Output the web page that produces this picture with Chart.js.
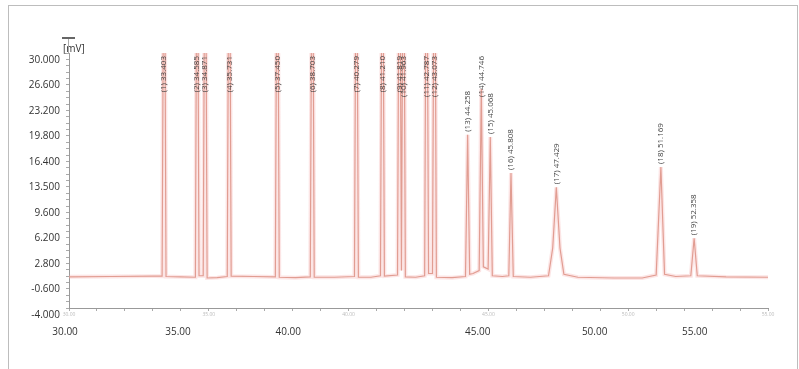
<!DOCTYPE html>
<html>
<head>
<meta charset="utf-8">
<script src="https://cdn.jsdelivr.net/npm/chart.js@4.4.1/dist/chart.umd.min.js"></script>
<style>
  html, body { margin: 0; padding: 0; background: #fff; }
  #wrap { position: relative; width: 799px; height: 369px; overflow: hidden; }
  #frame { position: absolute; left: 8px; top: 5px; width: 788px; height: 380px; border: 1px solid #bdbdbd; }
  canvas { position: absolute; left: 0; top: 0; }
</style>
</head>
<body>
<div id="wrap">
  <div id="frame"></div>
  <canvas id="chart" width="799" height="369"></canvas>
</div>
<script>
// retention time (min) and signal (mV) of the trace
const traceTimes = [
  30.00, 31.50, 33.00, 33.33, 33.403, 33.47, 34.00, 34.52, 34.585, 34.65,
  34.80, 34.871, 34.94, 35.30, 35.66, 35.731, 35.80, 36.60, 37.38, 37.450,
  37.52, 38.10, 38.63, 38.703, 38.77, 39.50, 40.21, 40.279, 40.35, 40.80,
  41.14, 41.210, 41.28, 41.75, 41.819, 41.89, 41.963, 42.03, 42.40, 42.72,
  42.787, 42.86, 43.00, 43.073, 43.14, 43.70, 44.18, 44.258, 44.33, 44.45,
  44.67, 44.746, 44.82, 44.99, 45.068, 45.14, 45.50, 45.73, 45.808, 45.89,
  46.50, 47.15, 47.30, 47.429, 47.56, 47.70, 48.20, 49.50, 50.50, 51.00,
  51.169, 51.30, 51.70, 52.24, 52.358, 52.47, 53.50, 55.00
];
const traceSignal = [
  0.15, 0.20, 0.25, 0.25, 60, 0.20, 0.15, 0.10, 60, 0.30,
  0.30, 60, 0.00, 0.05, 0.20, 60, 0.25, 0.20, 0.15, 60,
  0.10, 0.05, 0.15, 60, 0.10, 0.10, 0.20, 60, 0.10, 0.10,
  0.30, 60, 0.25, 0.40, 60, 1.00, 60, 0.15, 0.10, 0.30,
  60, 0.60, 0.60, 60, 0.10, 0.05, 0.20, 19.1, 0.50, 0.60,
  1.00, 25.2, 1.50, 1.20, 18.8, 0.30, 0.20, 0.30, 14.0, 0.20,
  0.10, 0.30, 4.0, 12.1, 4.0, 0.50, 0.10, 0.00, 0.00, 0.40,
  14.8, 0.50, 0.20, 0.30, 5.3, 0.30, 0.15, 0.10
];

// peak annotations
const peakTimes = [
  33.403, 34.585, 34.871, 35.731, 37.450, 38.703, 40.279, 41.210, 41.819, 41.963,
  42.787, 43.073, 44.258, 44.746, 45.068, 45.808, 47.429, 51.169, 52.358
];
const peakLabels = [
  "(1) 33.403", "(2) 34.585", "(3) 34.871", "(4) 35.731", "(5) 37.450",
  "(6) 38.703", "(7) 40.279", "(8) 41.210", "(9) 41.819", "(10) 41.963",
  "(11) 42.787", "(12) 43.073", "(13) 44.258", "(14) 44.746", "(15) 45.068",
  "(16) 45.808", "(17) 47.429", "(18) 51.169", "(19) 52.358"
];

const yTickLabels = ["-4.000", "-0.600", "2.800", "6.200", "9.600", "13.500",
  "16.400", "19.800", "23.200", "26.600", "30.000"];
const xTickLabels = ["30.00", "35.00", "40.00", "45.00", "50.00", "55.00"];
const xTickAt = [29.86, 33.90, 37.84, 44.62, 48.80, 52.38];

const points = traceTimes.map((t, i) => ({ x: t, y: traceSignal[i] }));

const peakText = {
  id: "peakText",
  afterDatasetsDraw(chart) {
    const { ctx, chartArea: area, scales } = chart;
    ctx.save();
    ctx.font = "8px 'Open Sans'";
    ctx.fillStyle = "#444";
    ctx.textAlign = "left";
    ctx.textBaseline = "middle";
    peakTimes.forEach((t, i) => {
      const top = traceSignal[traceTimes.indexOf(t)];
      const x = scales.x.getPixelForValue(t);
      const w = ctx.measureText(peakLabels[i]).width;
      const yStart = Math.max(scales.y.getPixelForValue(top) - 3, area.top + w + 3);
      ctx.save();
      ctx.translate(x, yStart);
      ctx.rotate(-Math.PI / 2);
      ctx.fillText(peakLabels[i], 0, 0);
      ctx.restore();
    });
    // unit and axis cap
    ctx.fillStyle = "#333";
    ctx.font = "10px 'Open Sans'";
    ctx.fillText("[mV]", area.left - 6, area.top - 4);
    ctx.strokeStyle = "#aaa";
    ctx.lineWidth = 1;
    ctx.beginPath();
    ctx.moveTo(area.left - 0.5, area.top - 15);
    ctx.lineTo(area.left - 0.5, area.top);
    ctx.stroke();
    ctx.strokeStyle = "#666";
    ctx.lineWidth = 2;
    ctx.beginPath();
    ctx.moveTo(area.left - 7, area.top - 15);
    ctx.lineTo(area.left + 6, area.top - 15);
    ctx.stroke();
    ctx.restore();
  }
};

new Chart(document.getElementById("chart"), {
  type: "line",
  data: {
    datasets: [
      {
        data: points,
        borderColor: "rgba(244,168,170,0.3)",
        borderWidth: 4,
        pointRadius: 0,
        tension: 0
      },
      {
        data: points,
        borderColor: "#d99888",
        borderWidth: 1.2,
        pointRadius: 0,
        tension: 0
      }
    ]
  },
  options: {
    responsive: false,
    animation: false,
    layout: { padding: { left: 0, top: 53, right: 31, bottom: 27 } },
    plugins: { legend: { display: false }, tooltip: { enabled: false } },
    scales: {
      x: {
        type: "linear",
        min: 30,
        max: 55,
        position: "bottom",
        afterFit: (s) => { s.height = 8; },
        border: { color: "#999" },
        grid: { drawOnChartArea: false, tickLength: 3, color: "#aaa" },
        ticks: {
          stepSize: 1,
          autoSkip: false,
          maxRotation: 0,
          padding: 1,
          color: "#bbb",
          font: { size: 5, family: "'Open Sans'" },
          callback: (v) => (v % 5 === 0 ? v.toFixed(2) : "")
        }
      },
      x2: {
        type: "linear",
        min: 30,
        max: 55,
        position: "bottom",
        afterFit: (s) => { s.height = 26; },
        afterBuildTicks: (s) => { s.ticks = xTickAt.map((v) => ({ value: v })); },
        border: { display: false },
        grid: { display: false },
        ticks: {
          autoSkip: false,
          maxRotation: 0,
          padding: 2,
          color: "#333",
          font: { size: 10, family: "'Open Sans'" },
          callback: (v, i) => xTickLabels[i]
        }
      },
      y: {
        min: -4,
        max: 30,
        afterFit: (s) => { s.width = 69; },
        border: { color: "#999" },
        grid: { drawOnChartArea: false, tickLength: 3, color: "#aaa" },
        ticks: {
          stepSize: 0.85,
          autoSkip: false,
          padding: 6,
          labelOffset: 7,
          color: "#333",
          font: { size: 10, family: "'Open Sans'" },
          callback: (v, i) => (i % 4 === 0 ? yTickLabels[i / 4] : "")
        }
      }
    }
  },
  plugins: [peakText]
});
</script>
</body>
</html>
